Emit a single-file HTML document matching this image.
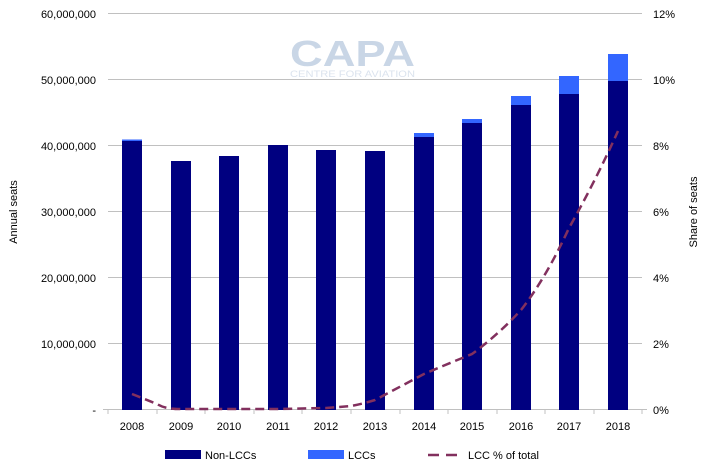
<!DOCTYPE html>
<html><head><meta charset="utf-8"><style>body{margin:0;background:#fff}</style></head><body>
<svg width="710" height="470" xmlns="http://www.w3.org/2000/svg" font-family="Liberation Sans, sans-serif" font-size="11" fill="#000">
<g stroke="#c0c0c0" stroke-width="1">
<line x1="108" y1="13.5" x2="642" y2="13.5"/><line x1="108" y1="79.5" x2="642" y2="79.5"/>
<line x1="108" y1="145.5" x2="642" y2="145.5"/><line x1="108" y1="211.5" x2="642" y2="211.5"/>
<line x1="108" y1="277.5" x2="642" y2="277.5"/><line x1="108" y1="343.5" x2="642" y2="343.5"/>
<line x1="103" y1="409.5" x2="647" y2="409.5"/>
</g>
<g stroke="#c0c0c0"><line x1="108" y1="409" x2="108" y2="414"/><line x1="157" y1="409" x2="157" y2="414"/><line x1="205" y1="409" x2="205" y2="414"/><line x1="254" y1="409" x2="254" y2="414"/><line x1="302" y1="409" x2="302" y2="414"/><line x1="351" y1="409" x2="351" y2="414"/><line x1="400" y1="409" x2="400" y2="414"/><line x1="448" y1="409" x2="448" y2="414"/><line x1="497" y1="409" x2="497" y2="414"/><line x1="545" y1="409" x2="545" y2="414"/><line x1="594" y1="409" x2="594" y2="414"/><line x1="642" y1="409" x2="642" y2="414"/></g>
<text x="290" y="66" font-size="36" font-weight="bold" fill="#c9d6e6" textLength="125" lengthAdjust="spacingAndGlyphs">CAPA</text>
<text x="290" y="77" font-size="9" fill="#dbe3ee" textLength="125" lengthAdjust="spacingAndGlyphs">CENTRE FOR AVIATION</text>
<g text-anchor="end">
<text x="96" y="18">60,000,000</text><text x="96" y="84">50,000,000</text><text x="96" y="150">40,000,000</text><text x="96" y="216">30,000,000</text><text x="96" y="282">20,000,000</text><text x="96" y="348">10,000,000</text><text x="96" y="414">-</text>
</g>
<g>
<text x="653" y="18">12%</text><text x="653" y="84">10%</text><text x="653" y="150">8%</text><text x="653" y="216">6%</text><text x="653" y="282">4%</text><text x="653" y="348">2%</text><text x="653" y="414">0%</text>
</g>
<text transform="translate(17,212) rotate(-90)" text-anchor="middle">Annual seats</text>
<text transform="translate(697,212) rotate(-90)" text-anchor="middle">Share of seats</text>
<g fill="#000080">
<rect x="122" y="141" width="20" height="269"/>
<rect x="171" y="161" width="20" height="249"/>
<rect x="219" y="156" width="20" height="254"/>
<rect x="268" y="145" width="20" height="265"/>
<rect x="316" y="150" width="20" height="260"/>
<rect x="365" y="151" width="20" height="259"/>
<rect x="414" y="137" width="20" height="273"/>
<rect x="462" y="123" width="20" height="287"/>
<rect x="511" y="105" width="20" height="305"/>
<rect x="559" y="94" width="20" height="316"/>
<rect x="608" y="81" width="20" height="329"/>
</g>
<g fill="#3366ff">
<rect x="122" y="139.5" width="20" height="1.5"/>
<rect x="414" y="133" width="20" height="4"/>
<rect x="462" y="119" width="20" height="4"/>
<rect x="511" y="96" width="20" height="9"/>
<rect x="559" y="76" width="20" height="18"/>
<rect x="608" y="54" width="20" height="27"/>
</g>
<path d="M132,394 L157,404 C165,409 175,409 181,409 L278,409 L326,408 L351,406 Q362,404 375,400 L424,374 Q445,365 472,354 Q498,335 521,310 Q546,278 569,228 Q596,180 618,131" fill="none" stroke="#82305e" stroke-width="2.5" stroke-dasharray="9,5"/>
<g font-size="11">
<rect x="165" y="450" width="36" height="9" fill="#000080"/><text x="205" y="459">Non-LCCs</text>
<rect x="308" y="450" width="36" height="9" fill="#3366ff"/><text x="348" y="459">LCCs</text>
<line x1="428" y1="455" x2="464" y2="455" stroke="#82305e" stroke-width="2.5" stroke-dasharray="11,7"/><text x="468" y="459">LCC % of total</text>
</g>
<g text-anchor="middle">
<text x="132" y="430">2008</text><text x="181" y="430">2009</text><text x="229" y="430">2010</text><text x="278" y="430">2011</text><text x="326" y="430">2012</text><text x="375" y="430">2013</text><text x="424" y="430">2014</text><text x="472" y="430">2015</text><text x="521" y="430">2016</text><text x="569" y="430">2017</text><text x="618" y="430">2018</text>
</g>
</svg>
</body></html>
